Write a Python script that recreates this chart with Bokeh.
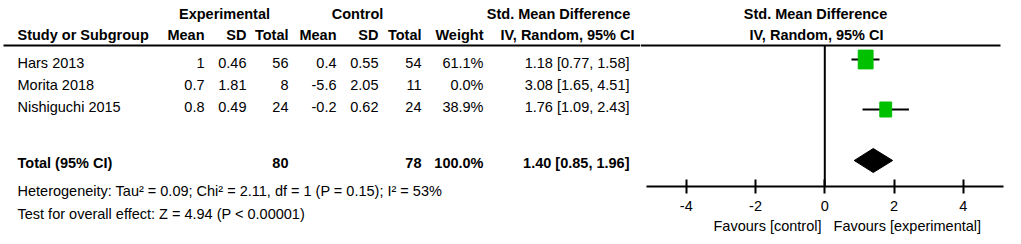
from bokeh.plotting import figure
from bokeh.layouts import row
from bokeh.models import Range1d, LinearAxis, FixedTicker, Title, ColumnDataSource
from bokeh.core.properties import value
from bokeh.embed import file_html
from bokeh.resources import INLINE
import math

# ---------------- data ----------------
studies = ["Hars 2013", "Morita 2018", "Nishiguchi 2015"]
exp_mean = [1, 0.7, 0.8]
exp_sd = [0.46, 1.81, 0.49]
exp_n = [56, 8, 24]
ctl_mean = [0.4, -5.6, -0.2]
ctl_sd = [0.55, 2.05, 0.62]
ctl_n = [54, 11, 24]
weight = [61.1, 0.0, 38.9]
smd = [1.18, 3.08, 1.76]
ci_lo = [0.77, 1.65, 1.09]
ci_hi = [1.58, 4.51, 2.43]
total_exp = 80
total_ctl = 78
total_weight = 100.0
pooled = [1.40, 0.85, 1.96]   # estimate, low, high
heterogeneity = "Heterogeneity: Tau\u00b2 = 0.09; Chi\u00b2 = 2.11, df = 1 (P = 0.15); I\u00b2 = 53%"
overall = "Test for overall effect: Z = 4.94 (P < 0.00001)"
axis_ticks = [-4, -2, 0, 2, 4]
favours = ["Favours [control]", "Favours [experimental]"]

# ---------------- layout constants ----------------
FONT_NAME = "Liberation Sans"
FONT = value(FONT_NAME)
FS = "14.5px"
W, H = 1021, 244
LEFT_W = 640
AXIS_Y = 186
row_y = [62, 84, 106]
total_y = 162
het_y = 190
test_y = 213
hdr1_y = 13
hdr2_y = 34
line_y = 45
zero_px = 824.3
px_per_unit = 34.625


def fmt(v):
    return f"{v:g}"


def txt(p, x, y, s, align="left", bold=False, **kw):
    p.text(x=[x], y=[y], text=[s], text_font=FONT, text_font_size=FS,
           text_font_style="bold" if bold else "normal", text_align=align,
           text_baseline="middle", text_color="black", **kw)


# ---------------- left table figure ----------------
left = figure(width=LEFT_W, height=H, x_range=Range1d(0, LEFT_W), y_range=Range1d(H, 0),
              output_backend="svg", toolbar_location=None,
              x_axis_location=None, y_axis_location=None, min_border=0)
left.frame_align = False
left.xgrid.visible = False
left.ygrid.visible = False
left.outline_line_color = None

# headers
txt(left, 224, hdr1_y, "Experimental", "center", True)
txt(left, 357, hdr1_y, "Control", "center", True)
txt(left, 558, hdr1_y, "Std. Mean Difference", "center", True)
txt(left, 17, hdr2_y, "Study or Subgroup", "left", True)
col_right = [204, 246, 288, 336, 378, 421, 483]
for xr, h in zip(col_right, ["Mean", "SD", "Total", "Mean", "SD", "Total", "Weight"]):
    txt(left, xr, hdr2_y, h, "right", True)
txt(left, 634, hdr2_y, "IV, Random, 95% CI", "right", True)
left.segment(x0=[3], y0=[line_y], x1=[LEFT_W], y1=[line_y], line_color="black", line_width=2)

# study rows
src = ColumnDataSource(dict(
    y=row_y, study=studies,
    em=[fmt(v) for v in exp_mean], es=[fmt(v) for v in exp_sd], en=[str(v) for v in exp_n],
    cm=[fmt(v) for v in ctl_mean], cs=[fmt(v) for v in ctl_sd], cn=[str(v) for v in ctl_n],
    w=[f"{v:.1f}%" for v in weight],
    ci=[f"{m:.2f} [{l:.2f}, {h:.2f}]" for m, l, h in zip(smd, ci_lo, ci_hi)],
))
left.text(x=17, y="y", text="study", source=src, text_font=FONT, text_font_size=FS,
          text_align="left", text_baseline="middle", text_color="black")
for xr, col in zip(col_right + [629], ["em", "es", "en", "cm", "cs", "cn", "w", "ci"]):
    left.text(x=xr, y="y", text=col, source=src, text_font=FONT, text_font_size=FS,
              text_align="right", text_baseline="middle", text_color="black")

# total row
txt(left, 17, total_y, "Total (95% CI)", "left", True)
txt(left, 288, total_y, str(total_exp), "right", True)
txt(left, 421, total_y, str(total_ctl), "right", True)
txt(left, 483, total_y, f"{total_weight:.1f}%", "right", True)
txt(left, 629, total_y, f"{pooled[0]:.2f} [{pooled[1]:.2f}, {pooled[2]:.2f}]", "right", True)
txt(left, 17, het_y, heterogeneity, "left")
txt(left, 17, test_y, overall, "left")

# ---------------- right forest figure ----------------
RW = W - LEFT_W
f_start = -(zero_px - LEFT_W) / px_per_unit
f_end = (W - zero_px) / px_per_unit
right = figure(width=RW, height=H, x_range=Range1d(LEFT_W, W), y_range=Range1d(AXIS_Y, 0),
               output_backend="svg", toolbar_location=None,
               x_axis_location=None, y_axis_location=None,
               min_border_left=0, min_border_right=0, min_border_top=0,
               min_border_bottom=H - AXIS_Y)
right.frame_align = False
right.extra_x_ranges = {"forest": Range1d(f_start, f_end)}
right.xgrid.visible = False
right.ygrid.visible = False
right.outline_line_color = None

txt(right, 815, hdr1_y, "Std. Mean Difference", "center", True)
txt(right, 816, hdr2_y, "IV, Random, 95% CI", "center", True)
right.segment(x0=[LEFT_W], y0=[line_y], x1=[1000], y1=[line_y], line_color="black", line_width=2)

# zero line
right.segment(x0=[0], y0=[line_y], x1=[0], y1=[AXIS_Y], x_range_name="forest",
              line_color="black", line_width=2)

# study markers (only studies with weight)
idx = [i for i, w in enumerate(weight) if w > 0]
msrc = ColumnDataSource(dict(
    y=[row_y[i] - 3 if i == 0 else row_y[i] + 3 for i in idx],
    m=[smd[i] for i in idx], lo=[ci_lo[i] for i in idx], hi=[ci_hi[i] for i in idx],
    sw=[1.9 * math.sqrt(weight[i]) for i in idx], sh=[2.4 * math.sqrt(weight[i]) for i in idx],
))
right.segment(x0="lo", y0="y", x1="hi", y1="y", source=msrc, x_range_name="forest",
              line_color="black", line_width=2)
right.rect(x="m", y="y", width="sw", height="sh", width_units="screen", height_units="screen",
           source=msrc, x_range_name="forest", fill_color="#00C000", line_color="#00C000")

# pooled diamond
right.patch(x=[pooled[1], pooled[0], pooled[2], pooled[0]],
            y=[total_y - 2, total_y - 14, total_y - 2, total_y + 10],
            x_range_name="forest", fill_color="black", line_color="black")

# axis
ax = LinearAxis(x_range_name="forest", bounds=(-5.15, 5.15),
                ticker=FixedTicker(ticks=axis_ticks, minor_ticks=[]))
ax.major_label_overrides = {t: str(t) for t in axis_ticks}
ax.axis_line_width = 2
ax.axis_line_color = "black"
ax.major_tick_line_width = 2
ax.major_tick_line_color = "black"
ax.major_tick_in = 7
ax.major_tick_out = 7
ax.minor_tick_line_color = None
ax.major_label_standoff = 7
ax.major_label_text_font = FONT_NAME
ax.major_label_text_font_size = FS
ax.major_label_text_color = "black"
right.add_layout(ax, "below")

fav = Title(text=favours[0] + "\u00a0\u00a0\u00a0" + favours[1], align="left", offset=73,
            text_font=FONT_NAME, text_font_size=FS, text_font_style="normal",
            text_color="black", standoff=4)
right.add_layout(fav, "below")

layout = row(left, right, spacing=0)
open("out.html", "w").write(file_html(layout, INLINE))
